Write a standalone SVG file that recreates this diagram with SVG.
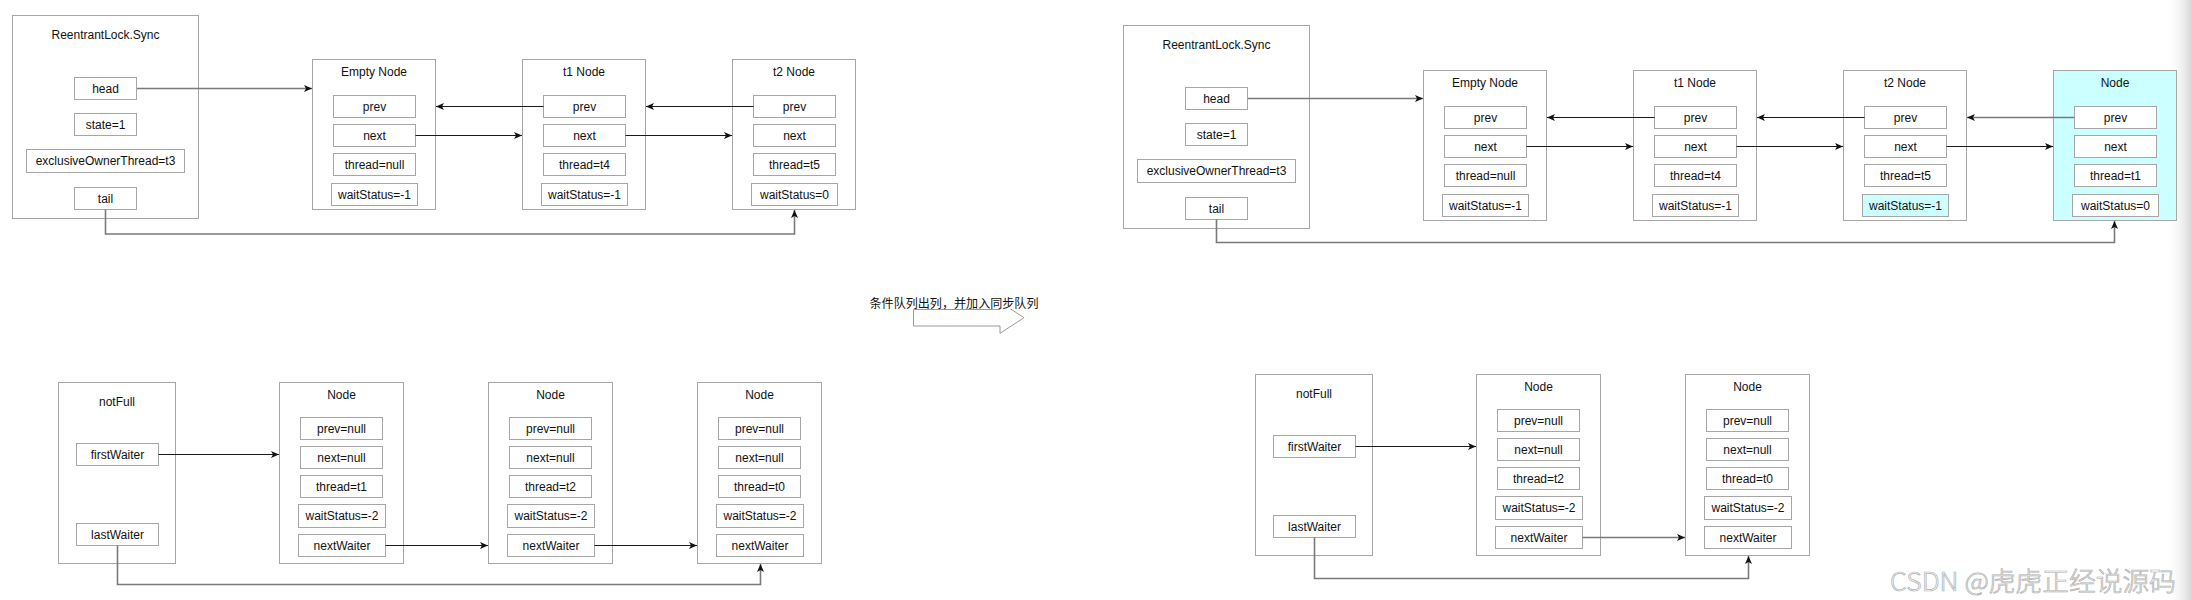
<svg xmlns="http://www.w3.org/2000/svg" width="2192" height="600" viewBox="0 0 2192 600">
<style>
.bx{fill:#fff;stroke:#a6a6a6;stroke-width:1}
.cy{fill:#ccffff}
.t{font-family:"Liberation Sans",Arial,sans-serif;font-size:12px;fill:#111;text-anchor:middle}
.c{fill:none;stroke:#1a1a1a;stroke-width:1}
.cg{fill:none;stroke:#7a7a7a;stroke-width:1.6}
.a{marker-end:url(#ah)}
.cn{font-family:"Noto Sans CJK SC",sans-serif;font-size:12px;fill:#111}
</style>
<defs>
<marker id="ah" viewBox="0 0 8 7" markerWidth="8" markerHeight="7" refX="8" refY="3.5" orient="auto" markerUnits="userSpaceOnUse">
<path d="M0,0 L8,3.5 L0,7 L2,3.5 Z" fill="#111"/>
</marker>
<linearGradient id="edge" x1="0" y1="0" x2="1" y2="0">
<stop offset="0" stop-color="#ffffff" stop-opacity="0"/>
<stop offset="1" stop-color="#d6d6d6"/>
</linearGradient>
</defs>
<rect x="0" y="0" width="2192" height="600" fill="#fff"/>
<rect x="2166" y="0" width="26" height="600" fill="url(#edge)"/>

<!-- ===== Top-left ===== -->
<g id="tl-sync">
<rect class="bx" x="12.5" y="15.5" width="186" height="203"/>
<text class="t" x="105.5" y="39">ReentrantLock.Sync</text>
<rect class="bx" x="74.5" y="77.5" width="62" height="22"/><text class="t" x="105.5" y="92.8">head</text>
<rect class="bx" x="74.5" y="113.5" width="62" height="22"/><text class="t" x="105.5" y="128.8">state=1</text>
<rect class="bx" x="26.5" y="149.5" width="158" height="23"/><text class="t" x="105.5" y="165.3">exclusiveOwnerThread=t3</text>
<rect class="bx" x="74.5" y="187.5" width="62" height="22"/><text class="t" x="105.5" y="202.8">tail</text>
</g>
<g id="tl-empty">
<rect class="bx" x="312.5" y="59.5" width="123" height="150"/>
<text class="t" x="374" y="76.3">Empty Node</text>
<rect class="bx" x="333.5" y="95.5" width="82" height="22"/><text class="t" x="374.5" y="110.8">prev</text>
<rect class="bx" x="333.5" y="124.5" width="82" height="22"/><text class="t" x="374.5" y="139.8">next</text>
<rect class="bx" x="333.5" y="153.5" width="82" height="22"/><text class="t" x="374.5" y="168.8">thread=null</text>
<rect class="bx" x="331.5" y="183.5" width="86" height="22"/><text class="t" x="374.5" y="198.8">waitStatus=-1</text>
</g>
<g id="tl-t1">
<rect class="bx" x="522.5" y="59.5" width="123" height="150"/>
<text class="t" x="584" y="76.3">t1 Node</text>
<rect class="bx" x="543.5" y="95.5" width="82" height="22"/><text class="t" x="584.5" y="110.8">prev</text>
<rect class="bx" x="543.5" y="124.5" width="82" height="22"/><text class="t" x="584.5" y="139.8">next</text>
<rect class="bx" x="543.5" y="153.5" width="82" height="22"/><text class="t" x="584.5" y="168.8">thread=t4</text>
<rect class="bx" x="541.5" y="183.5" width="86" height="22"/><text class="t" x="584.5" y="198.8">waitStatus=-1</text>
</g>
<g id="tl-t2">
<rect class="bx" x="732.5" y="59.5" width="123" height="150"/>
<text class="t" x="794" y="76.3">t2 Node</text>
<rect class="bx" x="753.5" y="95.5" width="82" height="22"/><text class="t" x="794.5" y="110.8">prev</text>
<rect class="bx" x="753.5" y="124.5" width="82" height="22"/><text class="t" x="794.5" y="139.8">next</text>
<rect class="bx" x="753.5" y="153.5" width="82" height="22"/><text class="t" x="794.5" y="168.8">thread=t5</text>
<rect class="bx" x="751.5" y="183.5" width="86" height="22"/><text class="t" x="794.5" y="198.8">waitStatus=0</text>
</g>

<!-- ===== Top-right ===== -->
<g id="tr-sync">
<rect class="bx" x="1123.5" y="25.5" width="186" height="203"/>
<text class="t" x="1216.5" y="49">ReentrantLock.Sync</text>
<rect class="bx" x="1185.5" y="87.5" width="62" height="22"/><text class="t" x="1216.5" y="102.8">head</text>
<rect class="bx" x="1185.5" y="123.5" width="62" height="22"/><text class="t" x="1216.5" y="138.8">state=1</text>
<rect class="bx" x="1137.5" y="159.5" width="158" height="23"/><text class="t" x="1216.5" y="175.3">exclusiveOwnerThread=t3</text>
<rect class="bx" x="1185.5" y="197.5" width="62" height="22"/><text class="t" x="1216.5" y="212.8">tail</text>
</g>
<g id="tr-empty">
<rect class="bx" x="1423.5" y="70.5" width="123" height="150"/>
<text class="t" x="1485" y="87.3">Empty Node</text>
<rect class="bx" x="1444.5" y="106.5" width="82" height="22"/><text class="t" x="1485.5" y="121.8">prev</text>
<rect class="bx" x="1444.5" y="135.5" width="82" height="22"/><text class="t" x="1485.5" y="150.8">next</text>
<rect class="bx" x="1444.5" y="164.5" width="82" height="22"/><text class="t" x="1485.5" y="179.8">thread=null</text>
<rect class="bx" x="1442.5" y="194.5" width="86" height="22"/><text class="t" x="1485.5" y="209.8">waitStatus=-1</text>
</g>
<g id="tr-t1">
<rect class="bx" x="1633.5" y="70.5" width="123" height="150"/>
<text class="t" x="1695" y="87.3">t1 Node</text>
<rect class="bx" x="1654.5" y="106.5" width="82" height="22"/><text class="t" x="1695.5" y="121.8">prev</text>
<rect class="bx" x="1654.5" y="135.5" width="82" height="22"/><text class="t" x="1695.5" y="150.8">next</text>
<rect class="bx" x="1654.5" y="164.5" width="82" height="22"/><text class="t" x="1695.5" y="179.8">thread=t4</text>
<rect class="bx" x="1652.5" y="194.5" width="86" height="22"/><text class="t" x="1695.5" y="209.8">waitStatus=-1</text>
</g>
<g id="tr-t2">
<rect class="bx" x="1843.5" y="70.5" width="123" height="150"/>
<text class="t" x="1905" y="87.3">t2 Node</text>
<rect class="bx" x="1864.5" y="106.5" width="82" height="22"/><text class="t" x="1905.5" y="121.8">prev</text>
<rect class="bx" x="1864.5" y="135.5" width="82" height="22"/><text class="t" x="1905.5" y="150.8">next</text>
<rect class="bx" x="1864.5" y="164.5" width="82" height="22"/><text class="t" x="1905.5" y="179.8">thread=t5</text>
<rect class="bx cy" x="1862.5" y="194.5" width="86" height="22"/><text class="t" x="1905.5" y="209.8">waitStatus=-1</text>
</g>
<g id="tr-node">
<rect class="bx cy" x="2053.5" y="70.5" width="123" height="150"/>
<text class="t" x="2115" y="87.3">Node</text>
<rect class="bx" x="2074.5" y="106.5" width="82" height="22"/><text class="t" x="2115.5" y="121.8">prev</text>
<rect class="bx" x="2074.5" y="135.5" width="82" height="22"/><text class="t" x="2115.5" y="150.8">next</text>
<rect class="bx" x="2074.5" y="164.5" width="82" height="22"/><text class="t" x="2115.5" y="179.8">thread=t1</text>
<rect class="bx" x="2072.5" y="194.5" width="86" height="22"/><text class="t" x="2115.5" y="209.8">waitStatus=0</text>
</g>

<!-- ===== Bottom-left ===== -->
<g id="bl-notfull">
<rect class="bx" x="58.5" y="382.5" width="117" height="181"/>
<text class="t" x="117" y="406">notFull</text>
<rect class="bx" x="76.5" y="443.5" width="82" height="22"/><text class="t" x="117.5" y="458.8">firstWaiter</text>
<rect class="bx" x="76.5" y="523.5" width="82" height="22"/><text class="t" x="117.5" y="538.8">lastWaiter</text>
</g>
<g id="bl-node1">
<rect class="bx" x="279.5" y="382.5" width="124" height="181"/>
<text class="t" x="341.5" y="399">Node</text>
<rect class="bx" x="300.5" y="417.5" width="82" height="22"/><text class="t" x="341.5" y="432.8">prev=null</text>
<rect class="bx" x="300.5" y="446.5" width="82" height="22"/><text class="t" x="341.5" y="461.8">next=null</text>
<rect class="bx" x="300.5" y="475.5" width="82" height="22"/><text class="t" x="341.5" y="490.8">thread=t1</text>
<rect class="bx" x="298.5" y="504.5" width="87" height="23"/><text class="t" x="342" y="520.3">waitStatus=-2</text>
<rect class="bx" x="298.5" y="534.5" width="87" height="22"/><text class="t" x="342" y="549.8">nextWaiter</text>
</g>
<g id="bl-node2">
<rect class="bx" x="488.5" y="382.5" width="124" height="181"/>
<text class="t" x="550.5" y="399">Node</text>
<rect class="bx" x="509.5" y="417.5" width="82" height="22"/><text class="t" x="550.5" y="432.8">prev=null</text>
<rect class="bx" x="509.5" y="446.5" width="82" height="22"/><text class="t" x="550.5" y="461.8">next=null</text>
<rect class="bx" x="509.5" y="475.5" width="82" height="22"/><text class="t" x="550.5" y="490.8">thread=t2</text>
<rect class="bx" x="507.5" y="504.5" width="87" height="23"/><text class="t" x="551" y="520.3">waitStatus=-2</text>
<rect class="bx" x="507.5" y="534.5" width="87" height="22"/><text class="t" x="551" y="549.8">nextWaiter</text>
</g>
<g id="bl-node3">
<rect class="bx" x="697.5" y="382.5" width="124" height="181"/>
<text class="t" x="759.5" y="399">Node</text>
<rect class="bx" x="718.5" y="417.5" width="82" height="22"/><text class="t" x="759.5" y="432.8">prev=null</text>
<rect class="bx" x="718.5" y="446.5" width="82" height="22"/><text class="t" x="759.5" y="461.8">next=null</text>
<rect class="bx" x="718.5" y="475.5" width="82" height="22"/><text class="t" x="759.5" y="490.8">thread=t0</text>
<rect class="bx" x="716.5" y="504.5" width="87" height="23"/><text class="t" x="760" y="520.3">waitStatus=-2</text>
<rect class="bx" x="716.5" y="534.5" width="87" height="22"/><text class="t" x="760" y="549.8">nextWaiter</text>
</g>

<!-- ===== Bottom-right ===== -->
<g id="br-notfull">
<rect class="bx" x="1255.5" y="374.5" width="117" height="181"/>
<text class="t" x="1314" y="398">notFull</text>
<rect class="bx" x="1273.5" y="435.5" width="82" height="22"/><text class="t" x="1314.5" y="450.8">firstWaiter</text>
<rect class="bx" x="1273.5" y="515.5" width="82" height="22"/><text class="t" x="1314.5" y="530.8">lastWaiter</text>
</g>
<g id="br-node1">
<rect class="bx" x="1476.5" y="374.5" width="124" height="181"/>
<text class="t" x="1538.5" y="391">Node</text>
<rect class="bx" x="1497.5" y="409.5" width="82" height="22"/><text class="t" x="1538.5" y="424.8">prev=null</text>
<rect class="bx" x="1497.5" y="438.5" width="82" height="22"/><text class="t" x="1538.5" y="453.8">next=null</text>
<rect class="bx" x="1497.5" y="467.5" width="82" height="22"/><text class="t" x="1538.5" y="482.8">thread=t2</text>
<rect class="bx" x="1495.5" y="496.5" width="87" height="23"/><text class="t" x="1539" y="512.3">waitStatus=-2</text>
<rect class="bx" x="1495.5" y="526.5" width="87" height="22"/><text class="t" x="1539" y="541.8">nextWaiter</text>
</g>
<g id="br-node2">
<rect class="bx" x="1685.5" y="374.5" width="124" height="181"/>
<text class="t" x="1747.5" y="391">Node</text>
<rect class="bx" x="1706.5" y="409.5" width="82" height="22"/><text class="t" x="1747.5" y="424.8">prev=null</text>
<rect class="bx" x="1706.5" y="438.5" width="82" height="22"/><text class="t" x="1747.5" y="453.8">next=null</text>
<rect class="bx" x="1706.5" y="467.5" width="82" height="22"/><text class="t" x="1747.5" y="482.8">thread=t0</text>
<rect class="bx" x="1704.5" y="496.5" width="87" height="23"/><text class="t" x="1748" y="512.3">waitStatus=-2</text>
<rect class="bx" x="1704.5" y="526.5" width="87" height="22"/><text class="t" x="1748" y="541.8">nextWaiter</text>
</g>

<!-- ===== Transition arrow ===== -->
<g id="transition">
<polygon points="913.5,309.5 1000,309.5 1000,302 1024,317.7 1000,333.3 1000,326 913.5,326" fill="#fff" stroke="#9a9a9a" stroke-width="1"/>
<rect x="867" y="296" width="174" height="12.8" fill="#fff"/>
<text class="cn" x="869.5" y="307.5" textLength="169" lengthAdjust="spacingAndGlyphs">条件队列出列，并加入同步队列</text>
</g>

<!-- ===== Connectors ===== -->
<g id="connectors">
<path class="cg a" d="M137,88.5 H312"/>
<path class="c a" d="M543.5,106.5 H436"/>
<path class="c a" d="M753.5,106.5 H646"/>
<path class="c a" d="M415.5,135.5 H522"/>
<path class="c a" d="M625.5,135.5 H732"/>
<path class="cg a" d="M105.5,209.5 V234 H794.5 V210"/>

<path class="cg a" d="M1248,98.5 H1423"/>
<path class="c a" d="M1654.5,117.5 H1547"/>
<path class="c a" d="M1864.5,117.5 H1757"/>
<path class="cg a" d="M2074.5,117.5 H1967"/>
<path class="c a" d="M1526.5,146.5 H1633"/>
<path class="c a" d="M1736.5,146.5 H1843"/>
<path class="c a" d="M1946.5,146.5 H2053"/>
<path class="cg a" d="M1216.5,219.5 V242.5 H2114.5 V221"/>

<path class="c a" d="M158.5,454.5 H279"/>
<path class="c a" d="M385.5,545.5 H488"/>
<path class="c a" d="M594.5,545.5 H697"/>
<path class="cg a" d="M117.5,545.5 V584.5 H760.5 V564"/>

<path class="c a" d="M1355.5,446.5 H1476"/>
<path class="cg a" d="M1582.5,537.5 H1685"/>
<path class="cg a" d="M1314.5,537.5 V578.5 H1748.5 V556"/>
</g>

<text x="1890" y="591" font-family="'Noto Sans CJK SC',sans-serif" font-size="26" font-weight="300" fill="#fdfdfd" stroke="#b0b0b0" stroke-width="0.7" textLength="286" lengthAdjust="spacingAndGlyphs">CSDN @虎虎正经说源码</text>
</svg>
